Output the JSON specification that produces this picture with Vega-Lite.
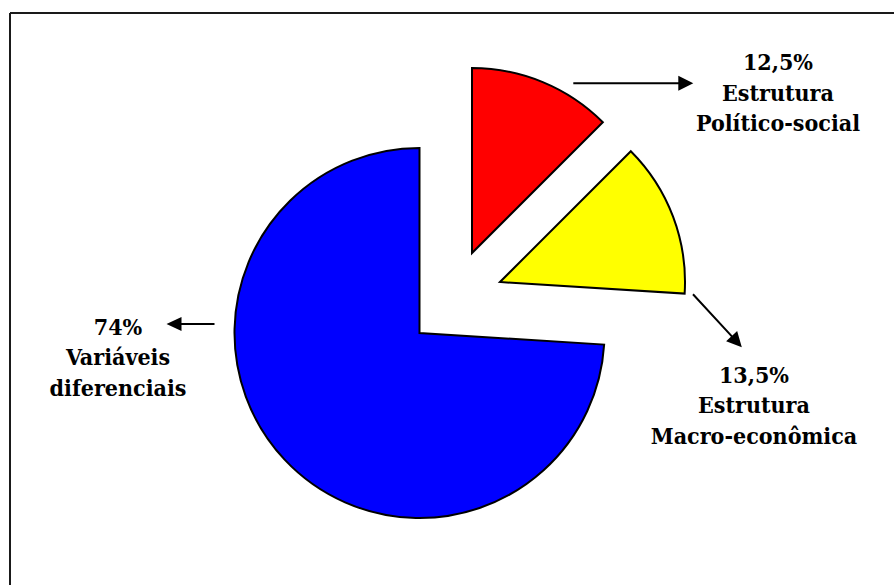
{
  "$schema": "https://vega.github.io/schema/vega-lite/v6.json",
  "width": 884,
  "height": 572,
  "autosize": {"type": "none"},
  "padding": {"left": 10, "top": 13, "right": 0, "bottom": 0},
  "background": "white",
  "view": {"stroke": null, "fill": "white"},
  "data": {
    "values": [
      {"order": 1, "slice": "Estrutura Político-social", "share": 12.5, "label": ["12,5%", "Estrutura", "Político-social"]},
      {"order": 2, "slice": "Estrutura Macro-econômica", "share": 13.5, "label": ["13,5%", "Estrutura", "Macro-econômica"]},
      {"order": 3, "slice": "Variáveis diferenciais", "share": 74, "label": ["74%", "Variáveis", "diferenciais"]}
    ]
  },
  "transform": [
    {"stack": "share", "groupby": [], "sort": [{"field": "order", "order": "ascending"}], "as": ["s0", "s1"]}
  ],
  "layer": [
    {
      "transform": [{"filter": "datum.order == 1"}],
      "mark": {"type": "rule", "stroke": "#1a1a1a", "strokeWidth": 2},
      "encoding": {"x": {"value": 0}}
    },
    {
      "transform": [{"filter": "datum.order == 1"}],
      "mark": {"type": "rule", "stroke": "#1a1a1a", "strokeWidth": 2},
      "encoding": {"y": {"value": 0}}
    },
    {
      "transform": [{"filter": "datum.order == 1"}],
      "mark": {"type": "arc", "outerRadius": 185, "stroke": "black", "strokeWidth": 2, "strokeJoin": "miter", "xOffset": 20, "yOffset": -46},
      "encoding": {
        "theta": {"field": "s0", "type": "quantitative", "scale": {"domain": [0, 100]}},
        "theta2": {"field": "s1"},
        "color": {"field": "slice", "type": "nominal", "legend": null, "scale": {"domain": ["Estrutura Político-social", "Estrutura Macro-econômica", "Variáveis diferenciais"], "range": ["#ff0000", "#ffff00", "#0000ff"]}}
      }
    },
    {
      "transform": [{"filter": "datum.order == 2"}],
      "mark": {"type": "arc", "outerRadius": 185, "stroke": "black", "strokeWidth": 2, "strokeJoin": "miter", "xOffset": 48, "yOffset": -17},
      "encoding": {
        "theta": {"field": "s0", "type": "quantitative", "scale": {"domain": [0, 100]}},
        "theta2": {"field": "s1"},
        "color": {"field": "slice", "type": "nominal", "legend": null}
      }
    },
    {
      "transform": [{"filter": "datum.order == 3"}],
      "mark": {"type": "arc", "outerRadius": 185, "stroke": "black", "strokeWidth": 2, "strokeJoin": "miter", "xOffset": -32.5, "yOffset": 34},
      "encoding": {
        "theta": {"field": "s0", "type": "quantitative", "scale": {"domain": [0, 100]}},
        "theta2": {"field": "s1"},
        "color": {"field": "slice", "type": "nominal", "legend": null}
      }
    },
    {
      "transform": [{"filter": "datum.order == 1"}],
      "mark": {"type": "text", "font": "DejaVu Serif Condensed", "fontWeight": "bold", "fontSize": 23, "lineHeight": 30.5, "align": "center", "baseline": "alphabetic", "color": "black", "dx": 326, "dy": -229},
      "encoding": {"text": {"field": "label"}}
    },
    {
      "transform": [{"filter": "datum.order == 2"}],
      "mark": {"type": "text", "font": "DejaVu Serif Condensed", "fontWeight": "bold", "fontSize": 23, "lineHeight": 30.5, "align": "center", "baseline": "alphabetic", "color": "black", "dx": 302, "dy": 83.7},
      "encoding": {"text": {"field": "label"}}
    },
    {
      "transform": [{"filter": "datum.order == 3"}],
      "mark": {"type": "text", "font": "DejaVu Serif Condensed", "fontWeight": "bold", "fontSize": 23, "lineHeight": 30.5, "align": "center", "baseline": "alphabetic", "color": "black", "dx": -334, "dy": 35.5},
      "encoding": {"text": {"field": "label"}}
    },
    {
      "transform": [{"filter": "datum.order == 1"}],
      "mark": {"type": "point", "shape": "M-1,-0.0167L0.75,-0.0167L0.75,-0.125L1,0L0.75,0.125L0.75,0.0167L-1,0.0167Z", "size": 14400, "filled": true, "fill": "black", "strokeWidth": 0, "opacity": 1, "angle": 0, "xOffset": 181.3, "yOffset": -215.7},
      "encoding": {}
    },
    {
      "transform": [{"filter": "datum.order == 2"}],
      "mark": {"type": "point", "shape": "M-1,-0.0278L0.5833,-0.0278L0.5833,-0.2083L1,0L0.5833,0.2083L0.5833,0.0278L-1,0.0278Z", "size": 5184, "filled": true, "fill": "black", "strokeWidth": 0, "opacity": 1, "angle": 47.3, "xOffset": 265.4, "yOffset": 21.7},
      "encoding": {}
    },
    {
      "transform": [{"filter": "datum.order == 3"}],
      "mark": {"type": "point", "shape": "M-1,-0.0417L0.375,-0.0417L0.375,-0.2917L1,0L0.375,0.2917L0.375,0.0417L-1,0.0417Z", "size": 2304, "filled": true, "fill": "black", "strokeWidth": 0, "opacity": 1, "angle": 180, "xOffset": -261.5, "yOffset": 25},
      "encoding": {}
    }
  ]
}
